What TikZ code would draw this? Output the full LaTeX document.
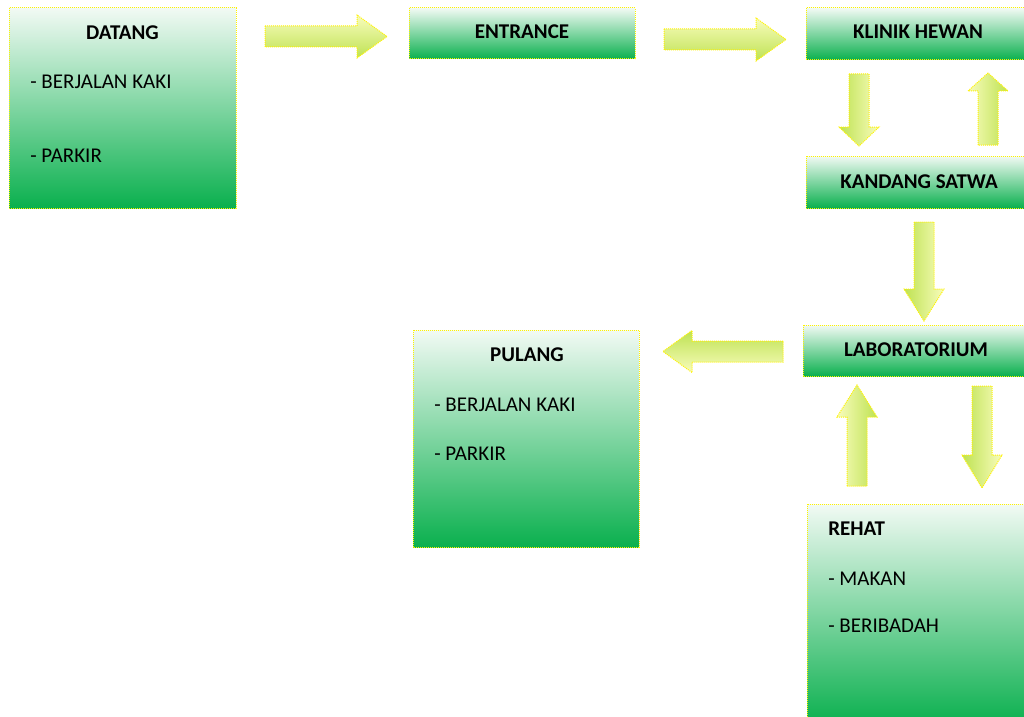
\documentclass[tikz,border=0pt]{standalone}
\usepackage{fontspec}
\setmainfont{Carlito}
\begin{document}
\begin{tikzpicture}[x=0.75pt,y=-0.75pt,
  boxstyle/.style={draw=yellow, line width=0.75pt, dash pattern=on 0.75pt off 0.75pt,
    top color=boxtop, bottom color=boxbot},
  arrowstyle/.style={draw=yellow, line width=0.75pt, dash pattern=on 0.75pt off 0.75pt,
    top color=arrlight, bottom color=arrdark},
  title/.style={inner sep=0pt, anchor=base, font=\fontsize{15.75}{19}\selectfont\bfseries},
  titlel/.style={inner sep=0pt, anchor=base west, font=\fontsize{15.75}{19}\selectfont\bfseries},
  item/.style={inner sep=0pt, anchor=base west, font=\fontsize{15.75}{19}\selectfont}]
\definecolor{boxtop}{RGB}{242,250,244}
\definecolor{boxbot}{RGB}{10,176,78}
\definecolor{arrlight}{RGB}{248,252,188}
\definecolor{arrdark}{RGB}{190,226,82}
\useasboundingbox (0,0) rectangle (1024,717);
% boxes
\path[boxstyle] (9,8) rectangle (236,208);
\path[boxstyle] (409,8) rectangle (635,59);
\path[boxstyle] (806,8) rectangle (1030,60);
\path[boxstyle] (806,156) rectangle (1030,208);
\path[boxstyle] (803,325) rectangle (1030,376);
\path[boxstyle] (413,330) rectangle (639,547);
\path[boxstyle] (807,504) rectangle (1030,725);
% texts
\node[title] (datang) at (122.5,39.5) {DATANG};
\node[item] (d1) at (30,89) {- BERJALAN KAKI};
\node[item] (d2) at (30,162) {- PARKIR};
\node[title] (entrance) at (522,38.5) {ENTRANCE};
\node[title] (klinik) at (918,39) {KLINIK HEWAN};
\node[title] (kandang) at (919,188) {KANDANG SATWA};
\node[title] (lab) at (916,356) {LABORATORIUM};
\node[title] (pulang) at (527,361) {PULANG};
\node[item] (p1) at (434,411) {- BERJALAN KAKI};
\node[item] (p2) at (434,460) {- PARKIR};
\node[titlel] (rehat) at (828,535) {REHAT};
\node[item] (r1) at (828,585) {- MAKAN};
\node[item] (r2) at (828,632) {- BERIBADAH};
% horizontal block arrows: x0, xhead, xtip, y, body half, head half
\newcommand\HArrow[7]{\path[arrowstyle, shading angle=#7]
  (#1,#4-#5) -- (#2,#4-#5) -- (#2,#4-#6) -- (#3,#4) -- (#2,#4+#6) -- (#2,#4+#5) -- (#1,#4+#5) -- cycle;}
\newcommand\VArrow[7]{\path[arrowstyle, shading angle=#7]
  (#4-#5,#1) -- (#4-#5,#2) -- (#4-#6,#2) -- (#4,#3) -- (#4+#6,#2) -- (#4+#5,#2) -- (#4+#5,#1) -- cycle;}
\HArrow{265}{357}{387}{36.5}{10.5}{21.5}{0}
\HArrow{664}{756}{786}{39.5}{10.5}{21.5}{0}
\HArrow{783}{692}{663}{351.5}{10.5}{21}{180}
\VArrow{74}{127}{146}{859}{10}{20}{-90}
\VArrow{145}{91}{73}{988}{10}{20}{90}
\VArrow{222}{289}{321}{924}{10}{20}{-90}
\VArrow{486}{417}{385}{857}{10}{20}{90}
\VArrow{386}{455}{488}{982}{10}{20}{-90}
\end{tikzpicture}
\end{document}
